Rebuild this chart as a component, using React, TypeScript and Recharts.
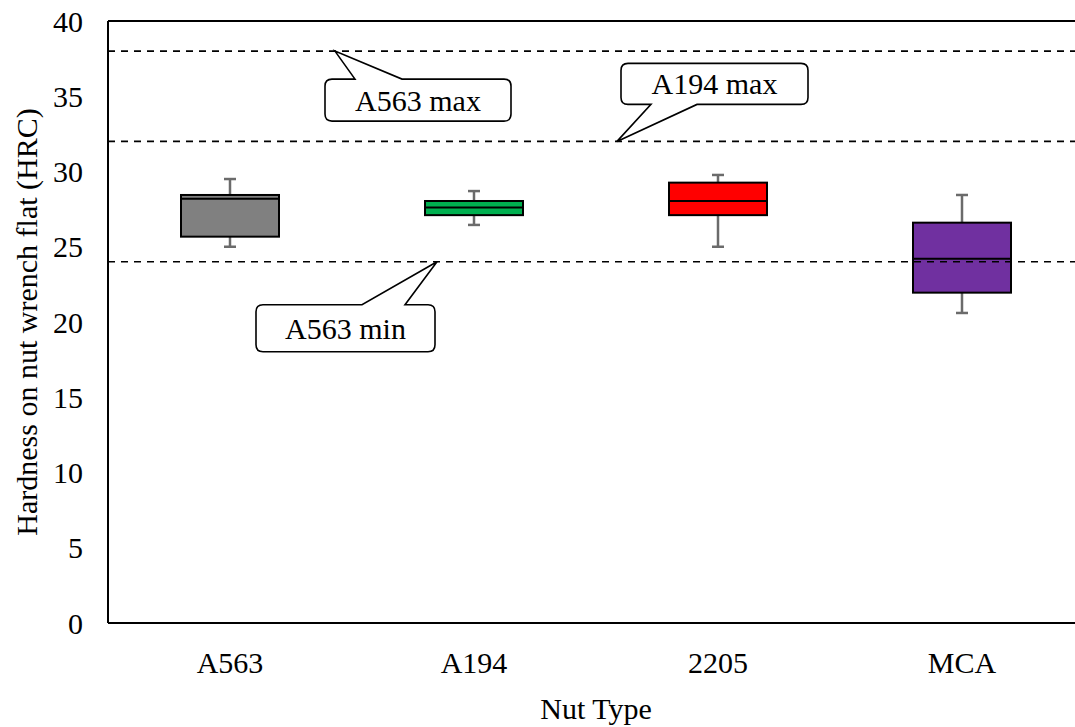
import React from 'react';
import { ComposedChart, Bar, XAxis, YAxis, ReferenceLine, Label } from 'recharts';

const categories = ['A563', 'A194', '2205', 'MCA'];
const mins = [25.0, 26.45, 25.0, 20.6];
const q1s = [25.67, 27.1, 27.1, 21.95];
const medians = [28.19, 27.6, 28.04, 24.2];
const q3s = [28.44, 28.04, 29.26, 26.6];
const maxs = [29.5, 28.7, 29.77, 28.44];
const boxColors = ['#808080', '#00B050', '#FF0000', '#7030A0'];

const yTicks = [0, 5, 10, 15, 20, 25, 30, 35, 40];
const limitValues = [38, 32, 24];
const limitLabels = ['A563 max', 'A194 max', 'A563 min'];

const FONT = '"Liberation Serif", "Times New Roman", serif';

const data = categories.map((name, i) => ({
  name,
  min: mins[i],
  q1: q1s[i],
  median: medians[i],
  q3: q3s[i],
  max: maxs[i],
  color: boxColors[i],
}));

// callout geometry, relative to the point where the tail touches the line
const callouts = [
  { dx: 227, box: [-10, 28, 176, 70], base: [20, 67], side: 'top' },
  { dx: 509, box: [4, -78, 191, -37], base: [34, 80], side: 'bottom' },
  { dx: 329, box: [-181, 43, -2, 90], base: [-75, -32], side: 'top' },
];

function BoxShape(props: any) {
  const { x, y, width, height, payload } = props;
  const k = height / (payload.max - payload.min);
  const py = (v: number) => y + (payload.max - v) * k;
  const cx = x + width / 2;
  const cap = 6;
  const top = py(payload.q3);
  const bottom = py(payload.q1);
  return (
    <g>
      <line x1={cx} x2={cx} y1={py(payload.max)} y2={top} stroke="#6b6b6b" strokeWidth={2.5} />
      <line x1={cx} x2={cx} y1={bottom} y2={py(payload.min)} stroke="#6b6b6b" strokeWidth={2.5} />
      <line x1={cx - cap} x2={cx + cap} y1={py(payload.max)} y2={py(payload.max)} stroke="#6b6b6b" strokeWidth={2.5} />
      <line x1={cx - cap} x2={cx + cap} y1={py(payload.min)} y2={py(payload.min)} stroke="#6b6b6b" strokeWidth={2.5} />
      <rect x={x} y={top} width={width} height={bottom - top} fill={payload.color} stroke="#000" strokeWidth={2} />
      <line x1={x} x2={x + width} y1={py(payload.median)} y2={py(payload.median)} stroke="#000" strokeWidth={2} />
    </g>
  );
}

function renderCallout(viewBox: any, text: string, c: any) {
  const tx = viewBox.x + c.dx;
  const ty = viewBox.y;
  const [l, t, r, b] = c.box;
  const x1 = tx + l, y1 = ty + t, x2 = tx + r, y2 = ty + b;
  const xa = tx + c.base[0], xb = tx + c.base[1];
  const rr = 7;
  let d: string;
  if (c.side === 'top') {
    d = `M${x1 + rr},${y1} L${xa},${y1} L${tx},${ty} L${xb},${y1} L${x2 - rr},${y1} Q${x2},${y1} ${x2},${y1 + rr}
      L${x2},${y2 - rr} Q${x2},${y2} ${x2 - rr},${y2} L${x1 + rr},${y2} Q${x1},${y2} ${x1},${y2 - rr}
      L${x1},${y1 + rr} Q${x1},${y1} ${x1 + rr},${y1} Z`;
  } else {
    d = `M${x1 + rr},${y1} L${x2 - rr},${y1} Q${x2},${y1} ${x2},${y1 + rr}
      L${x2},${y2 - rr} Q${x2},${y2} ${x2 - rr},${y2} L${xb},${y2} L${tx},${ty} L${xa},${y2} L${x1 + rr},${y2}
      Q${x1},${y2} ${x1},${y2 - rr} L${x1},${y1 + rr} Q${x1},${y1} ${x1 + rr},${y1} Z`;
  }
  return (
    <g>
      <path d={d} fill="#fff" stroke="#000" strokeWidth={1.6} strokeLinejoin="miter" />
      <text x={(x1 + x2) / 2} y={(y1 + y2) / 2 + 10.5} textAnchor="middle" fontSize={30} fontFamily={FONT} fill="#000">
        {text}
      </text>
    </g>
  );
}

export default function App() {
  return (
    <div style={{ position: 'fixed', left: 0, top: 0, width: 1075, height: 727, overflow: 'hidden', background: '#fff' }}>
      <ComposedChart
        width={1100}
        height={727}
        data={data}
        margin={{ top: 21, right: 16, left: 0, bottom: 0 }}
        style={{ fontFamily: FONT }}
      >
        <XAxis
          dataKey="name"
          height={104}
          tickLine={false}
          tickSize={0}
          tickMargin={29}
          axisLine={{ stroke: '#000', strokeWidth: 2 }}
          tick={{ fill: '#000', fontSize: 30, fontFamily: FONT }}
        >
          <Label value="Nut Type" position="insideBottom" offset={8} fill="#000" fontSize={30} fontFamily={FONT} />
        </XAxis>
        <YAxis
          domain={[0, 40]}
          ticks={yTicks}
          width={108}
          tickLine={false}
          tickSize={0}
          tickMargin={25}
          axisLine={{ stroke: '#000', strokeWidth: 2 }}
          tick={{ fill: '#000', fontSize: 30, fontFamily: FONT }}
        >
          <Label
            value="Hardness on nut wrench flat (HRC)"
            angle={-90}
            position="insideLeft"
            offset={26}
            fill="#000"
            fontSize={30}
            fontFamily={FONT}
            style={{ textAnchor: 'middle' }}
          />
        </YAxis>
        <Bar
          dataKey={(d: any) => [d.min, d.max]}
          barSize={98}
          shape={<BoxShape />}
          isAnimationActive={false}
        />
        <ReferenceLine y={40} stroke="#000" strokeWidth={2} />
        {limitValues.map((v, i) => (
          <ReferenceLine
            key={v}
            y={v}
            stroke="#000"
            strokeWidth={1.6}
            strokeDasharray="7 6"
            label={(p: any) => renderCallout(p.viewBox, limitLabels[i], callouts[i])}
          />
        ))}
      </ComposedChart>
    </div>
  );
}
